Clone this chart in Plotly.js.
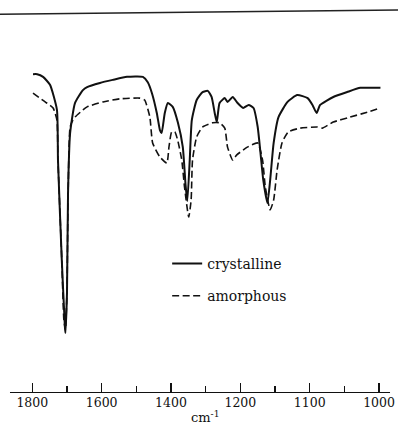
<!DOCTYPE html>
<html>
<head>
<meta charset="utf-8">
<script src="https://cdn.plot.ly/plotly-3.0.1.min.js"></script>
<style>html,body{margin:0;padding:0;background:#fff;}#chart{width:398px;height:427px;}</style>
</head>
<body>
<div id="chart"></div>
<script>
// Wavenumbers (cm^-1) and transmittance (%)
const crystWn = [1798,1786,1769,1749,1729,1726,1715,1706,1704.5,1700,1697,1691,1677,1654,1642,1605,1568,1527,1481,1467,1455,1441,1432,1427,1418,1409,1395,1380,1366,1358,1353,1346,1340,1326,1309,1294,1283,1274,1268,1260,1245,1237,1222,1208,1196,1188,1181,1175,1171,1167,1161,1157,1152,1145,1132,1118,1103,1096,1090,1085,1066,1046,1027,998];
const crystT  = [83.9,83.9,83.2,81.1,74.5,61.3,35.0,17.4,15.8,26.3,52.6,68.4,76.3,79.7,80.5,81.6,82.4,83.2,83.2,81.8,78.9,73.7,69.2,68.4,73.7,76.3,75.3,71.1,64.7,54.7,50.5,61.3,71.8,77.1,79.2,79.5,77.9,73.7,71.3,76.3,77.6,76.6,77.9,76.3,75.0,75.8,75.0,70.0,63.2,56.1,50.0,56.1,65.8,72.6,76.6,78.4,77.6,75.8,73.7,75.8,77.9,79.2,80.3,80.3];
const amorWn = [1798,1763,1740,1729,1726,1715,1709,1704.5,1700,1697,1691,1683,1677,1654,1642,1596,1548,1490,1476,1461,1453,1432,1412,1406,1398,1389,1381,1369,1361,1349,1342,1338,1326,1309,1280,1260,1245,1237,1222,1211,1190,1175,1168,1164,1157,1152,1147,1140,1131,1114,1089,1082,1066,1042,1017,998];
const amorT  = [78.9,76.6,75.0,71.8,61.3,35.0,19.2,16.6,27.1,50.8,70.0,71.8,72.6,74.5,75.3,76.6,77.4,77.6,77.1,72.6,65.8,62.1,60.5,64.7,68.7,68.7,66.6,61.3,54.2,46.3,50.8,61.3,67.4,70.0,71.1,71.1,69.7,64.7,61.3,62.6,64.7,65.8,61.3,54.2,48.2,50.8,58.7,65.8,68.7,69.7,70.0,69.7,71.3,72.6,73.9,75.0];
const tickLabels = ['1800','1600','1400','1200','1100','1000'];
const seriesNames = ['crystalline','amorphous'];

// Spectrometer chart axis: 200 cm^-1 per division above 1200, 100 cm^-1 per division below
function pos(wn){ return wn >= 1200 ? (1800 - wn) / 200 : 3 + (1200 - wn) / 100; }

const traces = [
  {x: crystWn.map(pos), y: crystT, name: seriesNames[0], mode: 'lines', legendgroup: 'a',
   line: {color: '#111', width: 2, shape: 'spline', smoothing: 0.5}},
  {x: amorWn.map(pos), y: amorT, name: seriesNames[1], mode: 'lines', legendgroup: 'b',
   line: {color: '#111', width: 1.6, dash: '7px,3.5px', shape: 'spline', smoothing: 0.5}}
];

const layout = {
  width: 398, height: 427,
  margin: {l: 0, r: 0, t: 0, b: 34},
  paper_bgcolor: '#fff', plot_bgcolor: '#fff',
  font: {family: 'DejaVu Serif, serif', color: '#111'},
  showlegend: true,
  legend: {x: 0.42, y: 0.369, xanchor: 'left', yanchor: 'top', bgcolor: 'rgba(0,0,0,0)',
           font: {size: 14, family: 'DejaVu Serif, serif'}, tracegroupgap: 11},
  xaxis: {range: [-0.466, 5.273], tickmode: 'array', tickvals: [0,1,2,3,4,5], ticktext: tickLabels,
          ticks: 'inside', ticklen: 10, tickwidth: 1.5, tickcolor: '#111',
          minor: {tickvals: [0.5,1.5,2.5,3.5,4.5], ticks: 'inside', ticklen: 7, tickwidth: 1.5, tickcolor: '#111'},
          showgrid: false, zeroline: false, showline: false,
          tickfont: {size: 12.5, family: 'DejaVu Serif, serif'}, fixedrange: true},
  yaxis: {range: [0, 103.42], visible: false, fixedrange: true},
  shapes: [
    {type: 'line', xref: 'x', yref: 'y', x0: -0.322, x1: 5.158, y0: 0, y1: 0, line: {color: '#111', width: 2}},
    {type: 'line', xref: 'paper', yref: 'y', x0: 0, x1: 1, y0: 99.7, y1: 100.8, line: {color: '#222', width: 1.5}}
  ],
  annotations: [
    {xref: 'paper', yref: 'paper', x: 205/398, y: -24/393, xanchor: 'center', yanchor: 'middle',
     text: 'cm<sup>-1</sup>', showarrow: false, font: {size: 13, family: 'DejaVu Serif, serif'}}
  ]
};

Plotly.newPlot('chart', traces, layout, {staticPlot: true, displayModeBar: false});
</script>
</body>
</html>
